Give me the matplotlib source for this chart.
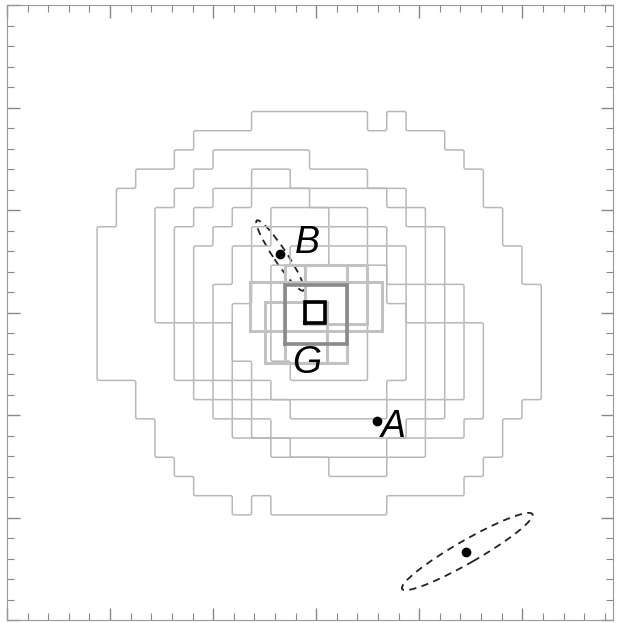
import numpy as np
import matplotlib
matplotlib.use("Agg")
import matplotlib.pyplot as plt
from matplotlib.patches import Ellipse
from matplotlib.ticker import MultipleLocator

# coarse image grid the contours were drawn on (data units)
grid_x0 = -21.26   # left edge of column 0
grid_y0 = 19.61    # top edge of row 0
pix = 1.874
n_rows, n_cols = 21, 23

# contours: (first row, last row, first col, last col) blocks inside each level
c1 = [(0, 0, 8, 13), (0, 0, 15, 15), (1, 1, 5, 17), (2, 2, 4, 18), (3, 3, 2, 19),
      (4, 4, 1, 19), (5, 5, 1, 20), (6, 6, 0, 20), (7, 8, 0, 21), (9, 13, 0, 22),
      (14, 14, 2, 22), (15, 15, 2, 21), (16, 17, 3, 20), (18, 18, 4, 19),
      (19, 19, 5, 18), (20, 20, 7, 7), (20, 20, 9, 14)]
c2 = [(2, 2, 6, 10), (3, 3, 5, 13), (4, 4, 4, 15), (5, 5, 3, 16), (6, 8, 3, 17),
      (9, 10, 3, 18), (11, 13, 4, 19), (14, 14, 5, 19), (15, 15, 6, 19),
      (16, 16, 7, 18), (17, 17, 9, 16), (18, 18, 12, 14)]
c3 = [(3, 3, 8, 9), (4, 4, 6, 14), (5, 5, 5, 15), (6, 8, 4, 16), (9, 10, 4, 17),
      (11, 13, 5, 18), (14, 14, 6, 18), (15, 15, 7, 17), (16, 16, 8, 16),
      (17, 17, 10, 14)]
c4 = [(4, 4, 8, 10), (5, 5, 7, 13), (6, 6, 6, 14), (7, 8, 5, 15), (9, 10, 5, 16),
      (11, 13, 6, 17), (14, 14, 7, 17), (15, 15, 8, 16), (16, 16, 9, 15)]
c5 = [(5, 5, 9, 11), (6, 6, 8, 13), (7, 8, 7, 14), (9, 10, 6, 15), (11, 13, 7, 16),
      (14, 14, 8, 16), (15, 15, 10, 14)]
c6 = [(6, 6, 9, 11), (7, 7, 8, 13), (8, 9, 8, 14), (10, 12, 7, 15), (13, 13, 8, 15),
      (14, 14, 9, 14)]
c7 = [(7, 7, 10, 11), (8, 12, 9, 13), (13, 13, 10, 13)]
contours = [c1, c2, c3, c4, c5, c6, c7]

# inner boxes (x0, x1, y0, y1)
light_boxes = [(-4.95, 1.07, -4.88, 1.07), (-1.07, 4.95, -1.17, 4.68),
               (-6.41, 6.41, -1.85, 3.02), (-3.01, 3.01, -4.88, 4.68)]
dark_box = (-3.01, 3.01, -3.12, 2.73)
core_box = (-1.07, 0.87, -0.98, 0.98)

# sources
pts_x = [5.92, -3.50, 14.56]
pts_y = [-10.63, 5.66, -23.32]
labels = ["A", "B", "G"]
label_x = [7.5, -0.9, -0.9]
label_y = [-11.2, 6.8, -4.9]

# error ellipses (x, y, length, width, angle)
ell_b = (-3.5, 5.56, 8.2, 1.3, -56.6)
ell_psf = (14.66, -23.32, 14.6, 2.2, 30.0)

fig = plt.figure(figsize=(6.23, 6.23), dpi=100)
ax = fig.add_axes([7 / 623, 3 / 623, 606 / 623, 615 / 623])

f = 8
for blocks in contours:
    mask = np.zeros((n_rows, n_cols))
    for r0, r1, col0, col1 in blocks:
        mask[r0:r1 + 1, col0:col1 + 1] = 1
    big = np.kron(mask, np.ones((f, f)))
    big = np.pad(big, 1)
    xs = grid_x0 + (np.arange(big.shape[1]) - 1 + 0.5) * pix / f
    ys = grid_y0 - (np.arange(big.shape[0]) - 1 + 0.5) * pix / f
    ax.contour(xs, ys, big, levels=[0.5], colors="#b8b8b8", linewidths=1.1)


def box(b, color, lw):
    x0, x1, y0, y1 = b
    ax.plot([x0, x1, x1, x0, x0], [y0, y0, y1, y1, y0], color=color, lw=lw,
            solid_joinstyle="miter")


for b in light_boxes:
    box(b, "#c2c2c2", 2.2)
box(dark_box, "#8a8a8a", 2.6)
box(core_box, "black", 2.6)

ax.plot(pts_x, pts_y, "o", color="black", ms=6)
for t, x, y in zip(labels, label_x, label_y):
    ax.text(x, y, t, fontsize=27, style="italic", family="Liberation Sans",
            ha="center", va="center")

for e in (ell_b, ell_psf):
    ax.add_patch(Ellipse((e[0], e[1]), e[2], e[3], angle=e[4], fill=False,
                         ls=(0, (4, 3)), lw=1.3, color="#222222"))

ax.set_xlim(-30, 28.8)
ax.set_ylim(-30, 30)
ax.xaxis.set_major_locator(MultipleLocator(10))
ax.xaxis.set_minor_locator(MultipleLocator(2))
ax.yaxis.set_major_locator(MultipleLocator(10))
ax.yaxis.set_minor_locator(MultipleLocator(2))
ax.tick_params(which="both", direction="in", top=True, right=True,
               labelbottom=False, labelleft=False, color="#888888")
ax.tick_params(which="major", length=9, width=1)
ax.tick_params(which="minor", length=5, width=0.8)
for s in ax.spines.values():
    s.set_color("#999999")

fig.savefig("out.png", dpi=100)
